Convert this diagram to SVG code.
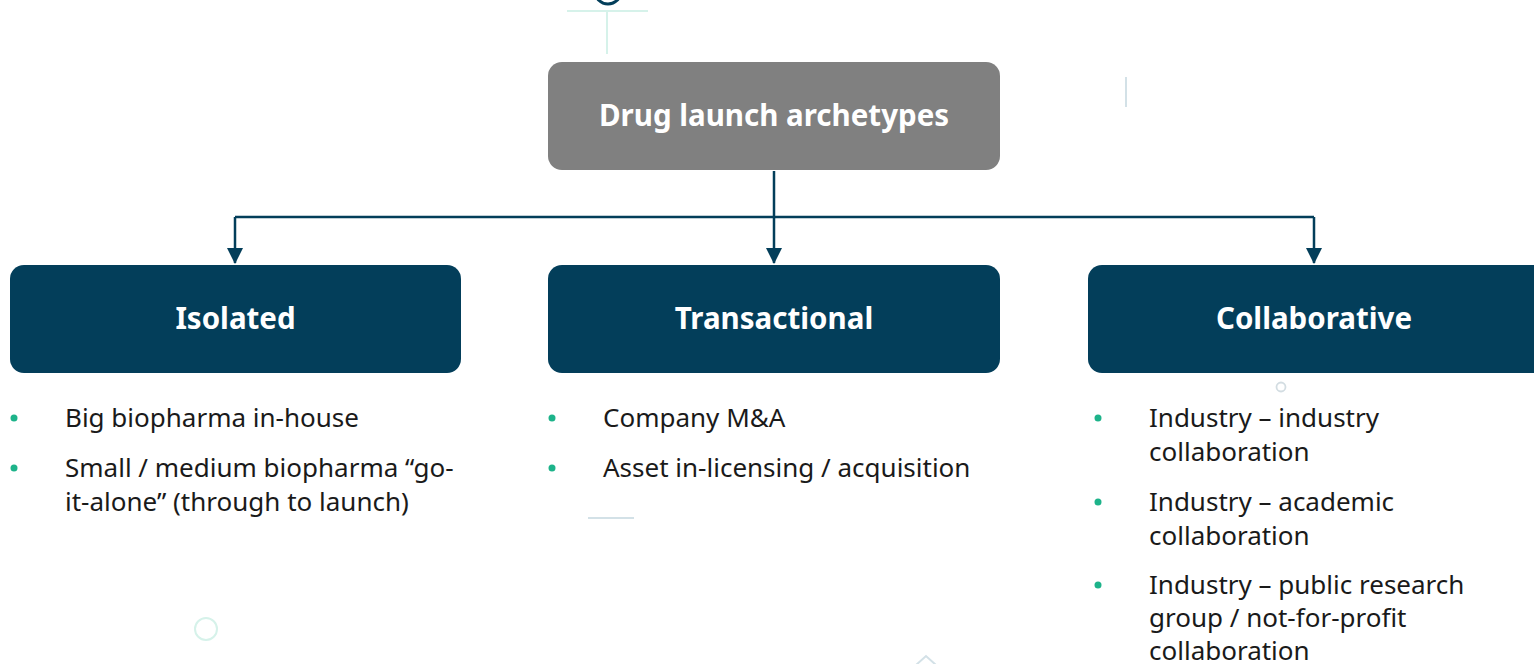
<svg xmlns="http://www.w3.org/2000/svg" width="1534" height="664" viewBox="0 0 1534 664">
<defs>
<style>
.hdr{fill:#808080}
.box{fill:#033e5a}
.lbl{font-family:"Noto Sans","Open Sans",sans-serif;font-weight:bold;font-size:29.5px;fill:#ffffff;text-anchor:middle}
.txt{font-family:"Noto Sans","Open Sans",sans-serif;font-size:26px;fill:#1a1a1a}
.dot{fill:#1db38a}
.conn{fill:none;stroke:#033e5a;stroke-width:2.5}
.deco{fill:none;stroke:#d6f2ea;stroke-width:2}
.deco2{fill:none;stroke:#d3e1e7;stroke-width:2}
</style>
<marker id="arr" markerWidth="16" markerHeight="16" refX="15" refY="8" orient="auto" markerUnits="userSpaceOnUse" viewBox="0 0 16 16">
<path d="M0,0 L16,8 L0,16 Z" fill="#033e5a"/>
</marker>
</defs>
<rect width="1534" height="664" fill="#ffffff"/>
<g id="decorations">
<circle cx="608" cy="-9" r="13" fill="none" stroke="#033e5a" stroke-width="3"/>
<line class="deco" x1="567" y1="11" x2="648" y2="11"/>
<line class="deco" x1="607" y1="11" x2="607" y2="54"/>
<line class="deco2" x1="1126" y1="77" x2="1126" y2="107"/>
<circle class="deco" cx="206" cy="629" r="11"/>
<circle cx="1281" cy="387" r="4.5" fill="none" stroke="#d3dde2" stroke-width="1.8"/>
<line class="deco2" x1="588" y1="518" x2="634" y2="518"/>
<polyline class="deco2" points="916,665 926,656 936,665"/>
</g>
<g id="connectors">
<line class="conn" x1="774" y1="171" x2="774" y2="263" marker-end="url(#arr)"/>
<polyline class="conn" points="1314,217 235,217"/>
<line class="conn" x1="235" y1="217" x2="235" y2="263" marker-end="url(#arr)"/>
<line class="conn" x1="1314" y1="217" x2="1314" y2="263" marker-end="url(#arr)"/>
</g>
<g id="root">
<rect class="hdr" x="548" y="62" width="452" height="108" rx="14"/>
<text class="lbl" x="774" y="126">Drug launch archetypes</text>
</g>
<g id="isolated">
<rect class="box" x="10" y="265" width="451" height="108" rx="14"/>
<text class="lbl" x="235.5" y="329">Isolated</text>
<circle class="dot" cx="14" cy="418" r="3.5"/>
<text class="txt" x="65" y="427">Big biopharma in-house</text>
<circle class="dot" cx="14" cy="468" r="3.5"/>
<text class="txt" x="65" y="477">Small / medium biopharma “go-</text>
<text class="txt" x="65" y="511">it-alone” (through to launch)</text>
</g>
<g id="transactional">
<rect class="box" x="548" y="265" width="452" height="108" rx="14"/>
<text class="lbl" x="774" y="329">Transactional</text>
<circle class="dot" cx="552" cy="418" r="3.5"/>
<text class="txt" x="603" y="427">Company M&amp;A</text>
<circle class="dot" cx="552" cy="468" r="3.5"/>
<text class="txt" x="603" y="477">Asset in-licensing / acquisition</text>
</g>
<g id="collaborative">
<rect class="box" x="1088" y="265" width="460" height="108" rx="14"/>
<text class="lbl" x="1314" y="329">Collaborative</text>
<circle class="dot" cx="1098" cy="418" r="3.5"/>
<text class="txt" x="1149" y="427">Industry – industry</text>
<text class="txt" x="1149" y="461">collaboration</text>
<circle class="dot" cx="1098" cy="502" r="3.5"/>
<text class="txt" x="1149" y="511">Industry – academic</text>
<text class="txt" x="1149" y="545">collaboration</text>
<circle class="dot" cx="1098" cy="585" r="3.5"/>
<text class="txt" x="1149" y="594">Industry – public research</text>
<text class="txt" x="1149" y="627">group / not-for-profit</text>
<text class="txt" x="1149" y="660">collaboration</text>
</g>
</svg>
